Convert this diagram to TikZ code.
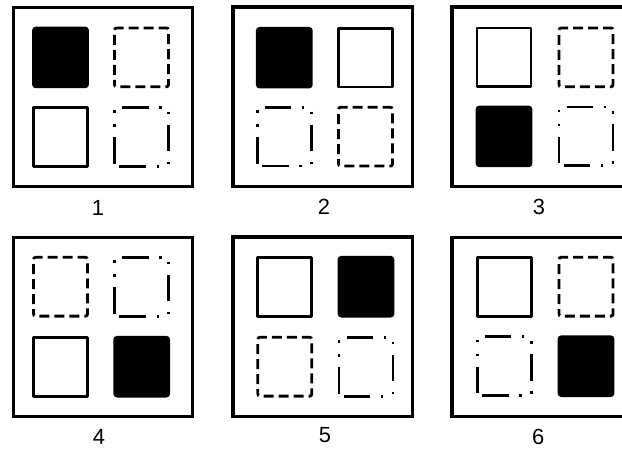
\documentclass[tikz,border=0pt]{standalone}
\usepackage{fontspec}
\setmainfont{Liberation Sans}
\newcommand\sqr[3]{\path[#1] (#2,#3) ++(0,58.8) -- ++(0,-58.8) -- ++(54,0) -- ++(0,58.8) -- cycle;}
\begin{document}
\begin{tikzpicture}[x=1bp,y=-1bp,
  frame/.style={draw=black,line width=3.3bp},
  sqB/.style={draw=black,fill=black,line width=2.8bp,rounded corners=2.5bp},
  sqW/.style={draw=black,line width=2.8bp,line join=round},
  sqD/.style={draw=black,line width=2.8bp,rounded corners=2bp,dash pattern=on 10bp off 5bp,dash phase=5bp},
  sqC/.style={draw=black,line width=2.8bp,dash pattern=on 26.5bp off 10.5bp on 2.5bp off 11.5bp on 2.5bp off 10.5bp,dash phase=61.7bp},
  lbl/.style={font=\fontsize{22}{26}\selectfont,inner sep=0pt}
]
\useasboundingbox (0,0) rectangle (622,449);
\clip (0,0) rectangle (622,449);
% panel 1
\begin{scope}[shift={(13.3,7.5)}]
  \draw[frame] (0,0) rectangle (179.4,179.2);
  \sqr{sqB}{20.2}{20.5} \sqr{sqD}{101.2}{20.5}
  \sqr{sqW}{20.2}{100}  \sqr{sqC}{101.4}{100}
\end{scope}
% panel 2
\begin{scope}[shift={(233,7)}]
  \draw[frame] (0,0) rectangle (179.4,179.2);
  \sqr{sqB}{24.3}{21.3} \sqr{sqW}{105.5}{21.3}
  \sqr{sqC}{24.3}{100.3} \sqr{sqD}{105.5}{100.3}
\end{scope}
% panel 3
\begin{scope}[shift={(452,7)}]
  \draw[frame] (0,0) rectangle (179.4,179.2);
  \sqr{sqW}{25}{21} \sqr{sqD}{107}{21}
  \sqr{sqB}{25}{100} \sqr{sqC}{107}{100}
\end{scope}
% panel 4
\begin{scope}[shift={(13.3,237.3)}]
  \draw[frame] (0,0) rectangle (179.4,179.4);
  \sqr{sqD}{20.2}{20} \sqr{sqC}{101.4}{20}
  \sqr{sqW}{20.2}{100} \sqr{sqB}{101.4}{100}
\end{scope}
% panel 5
\begin{scope}[shift={(233,237)}]
  \draw[frame] (0,0) rectangle (179.4,179.4);
  \sqr{sqW}{24.8}{20.3} \sqr{sqB}{106}{20.3}
  \sqr{sqD}{24.8}{100.3} \sqr{sqC}{106}{100.3}
\end{scope}
% panel 6
\begin{scope}[shift={(452,237.3)}]
  \draw[frame] (0,0) rectangle (179.4,179.4);
  \sqr{sqW}{25.3}{20} \sqr{sqD}{107}{20}
  \sqr{sqC}{25.3}{99.5} \sqr{sqB}{107}{99.5}
\end{scope}
\node[lbl] (l1) at (98,208) {1};
\node[lbl] (l2) at (324,206.5) {2};
\node[lbl] (l3) at (539,207) {3};
\node[lbl] (l4) at (99,437) {4};
\node[lbl] (l5) at (325,435.5) {5};
\node[lbl] (l6) at (538.3,437) {6};
\end{tikzpicture}
\end{document}
